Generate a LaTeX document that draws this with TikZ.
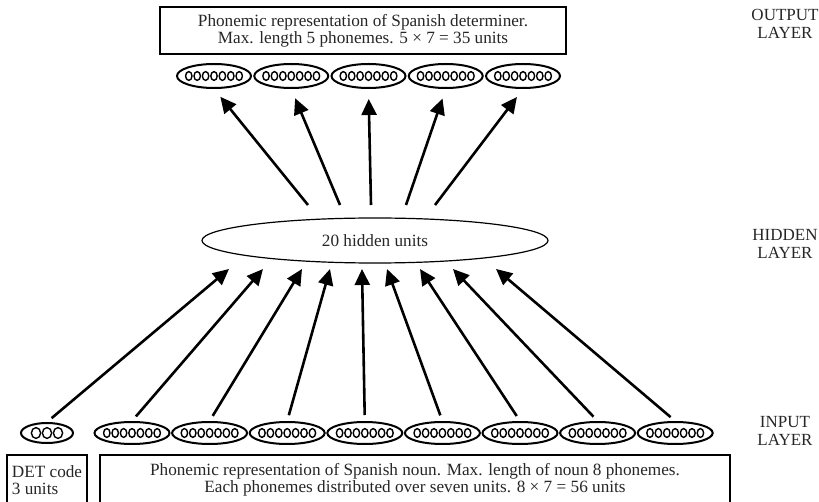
\documentclass[tikz,border=0pt]{standalone}
\usepackage{fontspec}
\setmainfont{Liberation Serif}
\usetikzlibrary{shapes.geometric,arrows.meta}

\tikzset{
  txt/.style={font=\fontsize{17.2}{17}\selectfont, text=black!85},
  layerlbl/.style={txt, align=center, font=\fontsize{17}{18}\selectfont},
  grp/.style={draw, ellipse, line width=2pt, minimum width=75pt, minimum height=22pt, inner sep=0pt},
  unitdot/.style={line width=1.4pt},
  box/.style={draw, line width=1.4pt, inner sep=0pt, txt},
  arr/.style={line width=2.6pt, -{Triangle[length=16pt,width=15pt]}},
}

\begin{document}
\begin{tikzpicture}[x=1pt,y=-1pt]
\useasboundingbox (0,0) rectangle (819,502);

% output layer
\node[box, minimum width=406pt, minimum height=47pt, align=center] (outbox) at (363,30.5)
  {Phonemic representation of Spanish determiner.\\Max. length 5 phonemes. 5 × 7 = 35 units};
\foreach \k in {1,...,5} {
  \pgfmathsetmacro\cx{214+77.25*(\k-1)}
  \node[grp, minimum width=74pt, minimum height=24pt] (out\k) at (\cx,76) {};
  \foreach \j in {-3,...,3}
    \draw[unitdot] (\cx+\j*8.4,76) ellipse (3.2pt and 4.4pt);
}

% hidden layer
\node[draw, ellipse, line width=1.2pt, minimum width=346pt, minimum height=45pt, txt] (hid) at (375,240.5) {20 hidden units};

% input layer
\node[grp, minimum width=52pt, minimum height=20pt] (in0) at (47,433) {};
\foreach \j in {-1,0,1}
  \draw[unitdot] (47+\j*11,433) ellipse (4.6pt and 5.4pt);
\foreach \k in {1,...,8} {
  \pgfmathsetmacro\cx{132+77.6*(\k-1)}
  \node[grp] (in\k) at (\cx,433) {};
  \foreach \j in {-3,...,3}
    \draw[unitdot] (\cx+\j*8.4,433) ellipse (3.2pt and 4.4pt);
}

\node[box, minimum width=80pt, minimum height=51pt, align=left] (detbox) at (47,480.5) {DET code\\3 units};
\node[box, minimum width=630pt, minimum height=49pt, align=center] (nounbox) at (415,479.5)
  {Phonemic representation of Spanish noun. Max. length of noun 8 phonemes.\\Each phonemes distributed over seven units. 8 × 7 = 56 units};

% layer names
\node[layerlbl] (lblout) at (785,24) {OUTPUT\\LAYER};
\node[layerlbl] (lblhid) at (785,244) {HIDDEN\\LAYER};
\node[layerlbl] (lblin) at (785,431) {INPUT\\LAYER};

% connections
\foreach \x/\k in {308/1,340/2,371/3,406/4,435/5} {
  \coordinate (ht\k) at (\x,205);
  \draw[arr, shorten >=10pt] (ht\k) -- (out\k.south);
}
\foreach \x/\k in {229/0,263/1,302/2,330/3,362/4,387/5,420/6,453/7,496/8} {
  \coordinate (hb\k) at (\x,269);
  \draw[arr, shorten <=6pt] (in\k.north) -- (hb\k);
}
\end{tikzpicture}
\end{document}
